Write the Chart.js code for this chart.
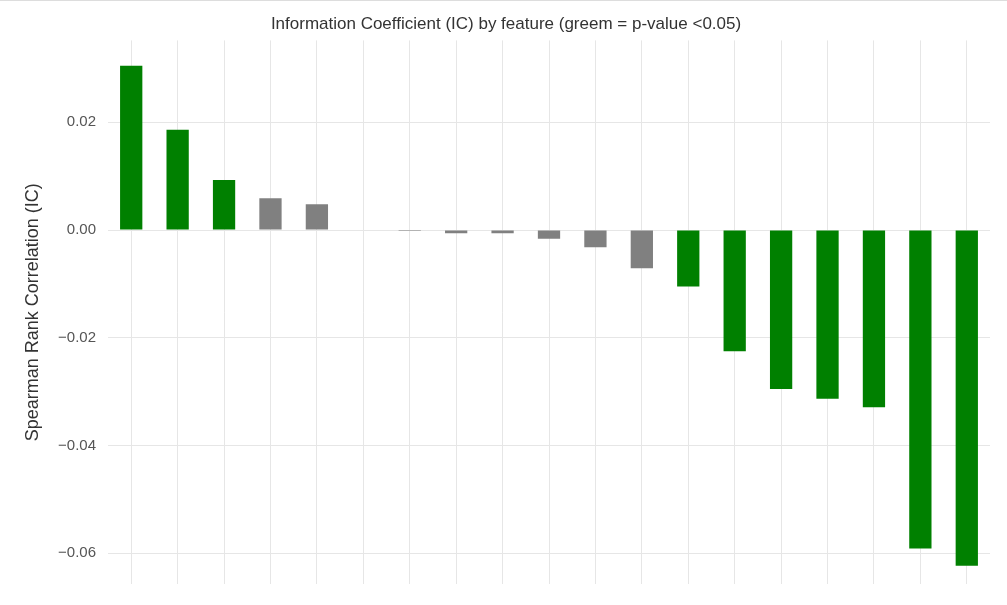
<!DOCTYPE html>
<html>
<head>
<meta charset="utf-8">
<script src="https://cdn.jsdelivr.net/npm/chart.js@4/dist/chart.umd.min.js"></script>
<style>
  html, body { margin: 0; padding: 0; background: #fff; }
  #wrap { width: 1007px; height: 605px; border-top: 1px solid #ddd; box-sizing: border-box; }
</style>
</head>
<body>
<div id="wrap"><canvas id="icChart"></canvas></div>
<script>
// features sorted by IC (labels fall below the visible area)
const features = ['f01','f02','f03','f04','f05','f06','f07','f08','f09','f10',
                  'f11','f12','f13','f14','f15','f16','f17','f18','f19'];
const icValues = [0.0305, 0.0186, 0.0093, 0.0059, 0.0048, 0.0, -0.0002, -0.0006, -0.0006, -0.0016,
                  -0.0032, -0.0071, -0.0105, -0.0225, -0.0295, -0.0313, -0.0329, -0.0591, -0.0623];
const significant = [true, true, true, false, false, false, false, false, false, false,
                     false, false, true, true, true, true, true, true, true];
const yTicks = [0.02, 0.0, -0.02, -0.04, -0.06];

const colors = significant.map(s => s ? '#008000' : '#808080');

new Chart(document.getElementById('icChart'), {
	type: 'bar',
	data: {
		labels: features,
		datasets: [{
			data: icValues,
			backgroundColor: colors,
			barPercentage: 0.48,
			categoryPercentage: 1.0
		}]
	},
	options: {
		responsive: true,
		maintainAspectRatio: false,
		animation: false,
		layout: { padding: { left: 22, right: 17, top: 0, bottom: 0 } },
		plugins: {
			legend: { display: false },
			tooltip: { enabled: false },
			title: {
				display: true,
				text: 'Information Coefficient (IC) by feature (greem = p-value <0.05)',
				color: '#333',
				font: { family: 'Arial, Liberation Sans', size: 17, weight: 'normal' },
				padding: { top: 13, bottom: 6 }
			}
		},
		scales: {
			x: {
				grid: { color: '#e6e6e6', drawTicks: false, offset: false },
				border: { display: false },
				ticks: { display: false }
			},
			y: {
				min: -0.0657,
				max: 0.0352,
				afterBuildTicks: axis => { axis.ticks = yTicks.map(v => ({ value: v })); },
				afterFit: axis => { axis.width = 86; },
				grid: { color: '#e6e6e6', drawTicks: false },
				border: { display: false },
				ticks: {
					color: '#555',
					padding: 12,
					font: { family: 'Arial, Liberation Sans', size: 15 },
					callback: v => (v < 0 ? '\u2212' : '') + Math.abs(v).toFixed(2)
				},
				title: {
					display: true,
					text: 'Spearman Rank Correlation (IC)',
					color: '#333',
					padding: 0,
					font: { family: 'Arial, Liberation Sans', size: 18 }
				}
			}
		}
	}
});
</script>
</body>
</html>
